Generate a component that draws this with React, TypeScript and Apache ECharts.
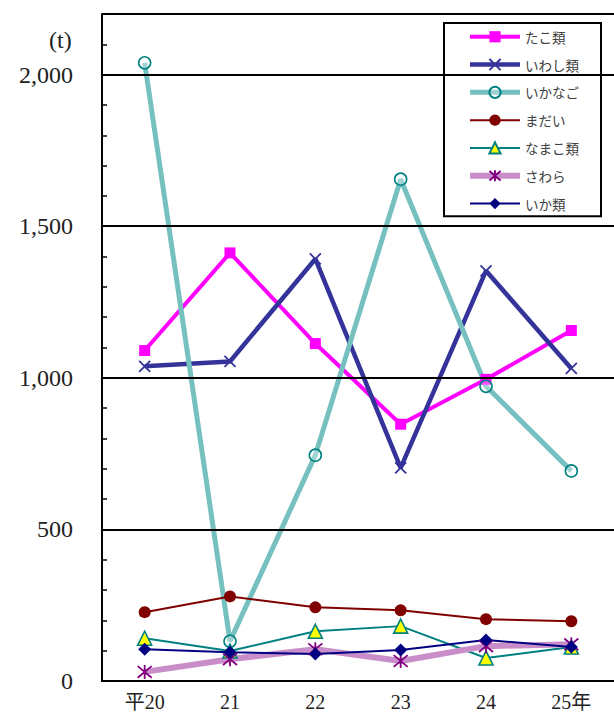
import React, { useEffect, useRef } from "react";
import * as echarts from "echarts";

const categories = ["平20", "21", "22", "23", "24", "25年"];
const seriesNames = ["たこ類", "いわし類", "いかなご", "まだい", "なまこ類", "さわら", "いか類"];
const tako = [1090, 1412, 1113, 847, 995, 1156];
const iwashi = [1038, 1054, 1392, 703, 1353, 1031];
const ikanago = [2039, 131, 745, 1655, 972, 693];
const madai = [227, 279, 243, 233, 204, 197];
const namako = [141, 99, 164, 181, 76, 112];
const sawara = [30, 72, 105, 66, 115, 121];
const ikarui = [105, 95, 89, 102, 135, 112];
const gridValues = [500, 1000, 1500, 2000, 2200];

const CROSS = "path://M0,0L10,10M10,0L0,10";
const STAR = "path://M0,0L10,10M10,0L0,10M5,-1L5,11";

const lineColors = ["#ff00ff", "#333399", "#76c0c0", "#800000", "#008080", "#c98ec9", "#000080"];
const lineWidths = [4, 4.5, 5, 2, 2, 6, 2];

export default function App() {
  const ref = useRef<HTMLDivElement>(null);
  useEffect(() => {
    if (!ref.current) return;
    const chart = echarts.init(ref.current, null, { renderer: "svg" });
    const serif = "'Liberation Serif', 'DejaVu Serif', 'Noto Sans CJK JP', serif";
    chart.setOption({
      animation: false,
      backgroundColor: "#fff",
      graphic: [
        {
          type: "text",
          left: 49,
          top: 28,
          style: { text: "(t)", font: `24px ${serif}`, fill: "#222" },
        },
      ],
      legend: {
        orient: "vertical",
        left: 444,
        top: 23,
        data: seriesNames.map((n, i) => ({
          name: n,
          lineStyle: { color: lineColors[i], width: lineWidths[i] },
        })),
        itemWidth: 50,
        itemHeight: 14,
        itemGap: 14.3,
        padding: [7, 22, 6, 23],
        borderColor: "#000",
        borderWidth: 2,
        backgroundColor: "#fff",
        textStyle: { fontSize: 13.5, color: "#404040", fontFamily: "'Noto Sans CJK JP'" },
        selectedMode: false,
      },
      grid: { left: 102, right: -2, top: 14, bottom: 34, containLabel: false },
      xAxis: {
        type: "category",
        data: categories,
        boundaryGap: true,
        axisLine: { lineStyle: { color: "#000", width: 2 } },
        axisTick: { inside: true, length: 6, lineStyle: { color: "#000", width: 1.5 } },
        axisLabel: { margin: 11, fontSize: 20, color: "#222", fontFamily: serif },
        splitLine: { show: false },
      },
      yAxis: {
        type: "value",
        min: 0,
        max: 2200,
        interval: 100,
        axisLine: { show: true, lineStyle: { color: "#000", width: 2 } },
        axisTick: { show: true, inside: true, length: 5, lineStyle: { color: "#000", width: 1.5 } },
        axisLabel: {
          margin: 29,
          fontSize: 24,
          color: "#222",
          fontFamily: serif,
          formatter: (v: number) => (v % 500 === 0 && v <= 2000 ? v.toLocaleString("en-US") : ""),
        },
        splitLine: { show: false },
      },
      series: [
        {
          name: "_grid",
          type: "line",
          data: [],
          z: 1,
          silent: true,
          markLine: {
            silent: true,
            symbol: ["none", "none"],
            label: { show: false },
            lineStyle: { color: "#000", width: 2, type: "solid" },
            data: gridValues.map((v) => ({ yAxis: v })),
          },
        },
        {
          name: "たこ類",
          type: "line",
          data: tako,
          z: 3,
          symbol: "rect",
          symbolSize: 11,
          lineStyle: { color: lineColors[0], width: lineWidths[0] },
          itemStyle: { color: "#ff00ff" },
        },
        {
          name: "いわし類",
          type: "line",
          data: iwashi,
          z: 3,
          symbol: CROSS,
          symbolSize: 11,
          lineStyle: { color: lineColors[1], width: lineWidths[1] },
          itemStyle: { color: "#333399", borderColor: "#333399", borderWidth: 1.8 },
        },
        {
          name: "いかなご",
          type: "line",
          data: ikanago,
          z: 3,
          symbol: "circle",
          symbolSize: 12,
          lineStyle: { color: lineColors[2], width: lineWidths[2] },
          itemStyle: { color: "rgba(255,255,255,0.3)", borderColor: "#008080", borderWidth: 1.6 },
        },
        {
          name: "まだい",
          type: "line",
          data: madai,
          z: 3,
          symbol: "circle",
          symbolSize: 12,
          lineStyle: { color: lineColors[3], width: lineWidths[3] },
          itemStyle: { color: "#800000" },
        },
        {
          name: "なまこ類",
          type: "line",
          data: namako,
          z: 3,
          symbol: "triangle",
          symbolSize: 14,
          lineStyle: { color: lineColors[4], width: lineWidths[4] },
          itemStyle: { color: "#ffff00", borderColor: "#008080", borderWidth: 1.6 },
        },
        {
          name: "さわら",
          type: "line",
          data: sawara,
          z: 3,
          symbol: STAR,
          symbolSize: 14,
          lineStyle: { color: lineColors[5], width: lineWidths[5] },
          itemStyle: { color: "#800080", borderColor: "#800080", borderWidth: 1.8 },
        },
        {
          name: "いか類",
          type: "line",
          data: ikarui,
          z: 3,
          symbol: "diamond",
          symbolSize: 13,
          lineStyle: { color: lineColors[6], width: lineWidths[6] },
          itemStyle: { color: "#000080" },
        },
      ],
    });
    return () => chart.dispose();
  }, []);
  return <div ref={ref} style={{ width: 614, height: 715, position: "absolute", left: 0, top: 0 }} />;
}
